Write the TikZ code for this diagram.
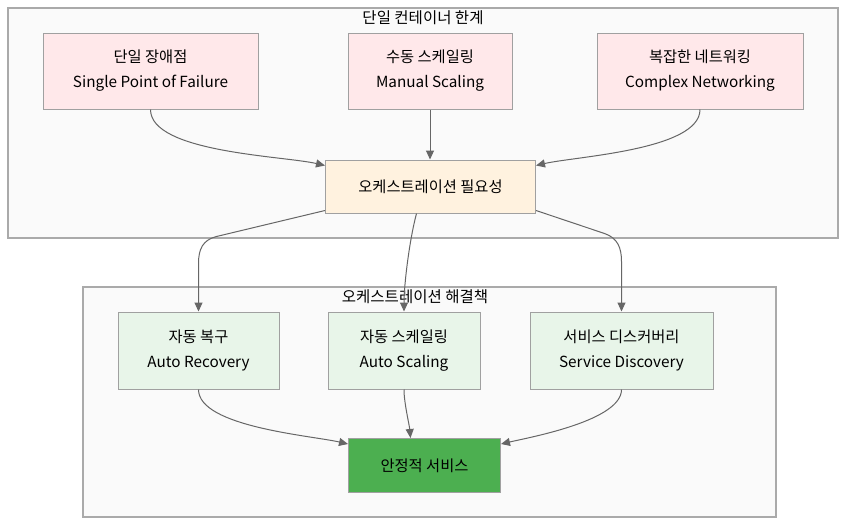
\documentclass[tikz,border=0pt]{standalone}
\usepackage{fontspec}
\setmainfont{Noto Sans CJK KR}
\usetikzlibrary{arrows.meta,calc}
\definecolor{pinkfill}{HTML}{FFE8EA}
\definecolor{orangefill}{HTML}{FFF2DF}
\definecolor{greenfill}{HTML}{E8F5E9}
\definecolor{okgreen}{HTML}{4CAF50}
\definecolor{nodeline}{HTML}{A0A0A0}
\definecolor{clusterline}{HTML}{AAAAAA}
\definecolor{clusterfill}{HTML}{FAFAFA}
\definecolor{edgecol}{HTML}{666666}
\tikzset{
  box/.style={draw=nodeline, line width=1pt, align=center, inner sep=0pt, font=\fontsize{15.3}{25}\selectfont},
  probbox/.style={box, fill=pinkfill},
  needbox/.style={box, fill=orangefill},
  solbox/.style={box, fill=greenfill},
  goalbox/.style={box, fill=okgreen},
  cluster/.style={draw=clusterline, fill=clusterfill, line width=1.2pt},
  ctitle/.style={font=\fontsize{15.5}{18}\selectfont, inner sep=0pt},
  edge/.style={draw=edgecol, line width=1pt, -{Triangle[length=9pt,width=8pt]}},
}
\begin{document}
\begin{tikzpicture}[x=1pt,y=1pt]
\useasboundingbox (0,0) rectangle (854,-530);
\fill[white] (0,0) rectangle (854,-530);
% clusters
\draw[cluster] (8,-8) rectangle (838,-238);
\node[ctitle] (t1) at (423,-18) {단일 컨테이너 한계};
\draw[cluster] (83,-287) rectangle (776,-517);
\node[ctitle] (t2) at (415,-297) {오케스트레이션 해결책};
% nodes
\node[probbox, minimum width=215pt, minimum height=76pt] (A) at (150.5,-71) {단일 장애점\\Single Point of Failure};
\node[probbox, minimum width=164pt, minimum height=76pt] (B) at (430,-71) {수동 스케일링\\Manual Scaling};
\node[probbox, minimum width=206pt, minimum height=76pt] (C) at (700,-71) {복잡한 네트워킹\\Complex Networking};
\node[needbox, minimum width=210pt, minimum height=53pt] (D) at (430.5,-186.5) {오케스트레이션 필요성};
\node[solbox, minimum width=161pt, minimum height=77pt] (E) at (198.5,-350.5) {자동 복구\\Auto Recovery};
\node[solbox, minimum width=152pt, minimum height=77pt] (F) at (404,-350.5) {자동 스케일링\\Auto Scaling};
\node[solbox, minimum width=183pt, minimum height=77pt] (G) at (621.5,-350.5) {서비스 디스커버리\\Service Discovery};
\node[goalbox, minimum width=152pt, minimum height=54pt] (H) at (424.5,-465.5) {안정적 서비스};
% edges
\draw[edge] (A.south) to[out=-90,in=167,looseness=0.6] ([yshift=-6pt]D.north west);
\draw[edge] (B.south) -- (B.south |- D.north);
\draw[edge] (C.south) to[out=-90,in=13,looseness=0.6] ([yshift=-6pt]D.north east);
\draw[edge] ([yshift=3pt]D.south west) -- ($(E.north)+(18,75)$)
  .. controls ($(E.north)+(4,71.5)$) and ($(E.north)+(0,62)$) .. ($(E.north)+(0,48)$) -- (E.north);
\draw[edge] ([xshift=-14pt]D.south) to[out=-105,in=90,looseness=0.7] (F.north);
\draw[edge] ([yshift=3pt]D.south east) -- ($(G.north)+(-17,78)$)
  .. controls ($(G.north)+(-4,73.5)$) and ($(G.north)+(0,64)$) .. ($(G.north)+(0,50)$) -- (G.north);
\draw[edge] (E.south) to[out=-90,in=167,looseness=0.6] ([yshift=-6pt]H.north west);
\draw[edge] (F.south) to[out=-90,in=95,looseness=0.7] ([xshift=-14pt]H.north);
\draw[edge] (G.south) to[out=-90,in=13,looseness=0.6] ([yshift=-6pt]H.north east);
\end{tikzpicture}
\end{document}
